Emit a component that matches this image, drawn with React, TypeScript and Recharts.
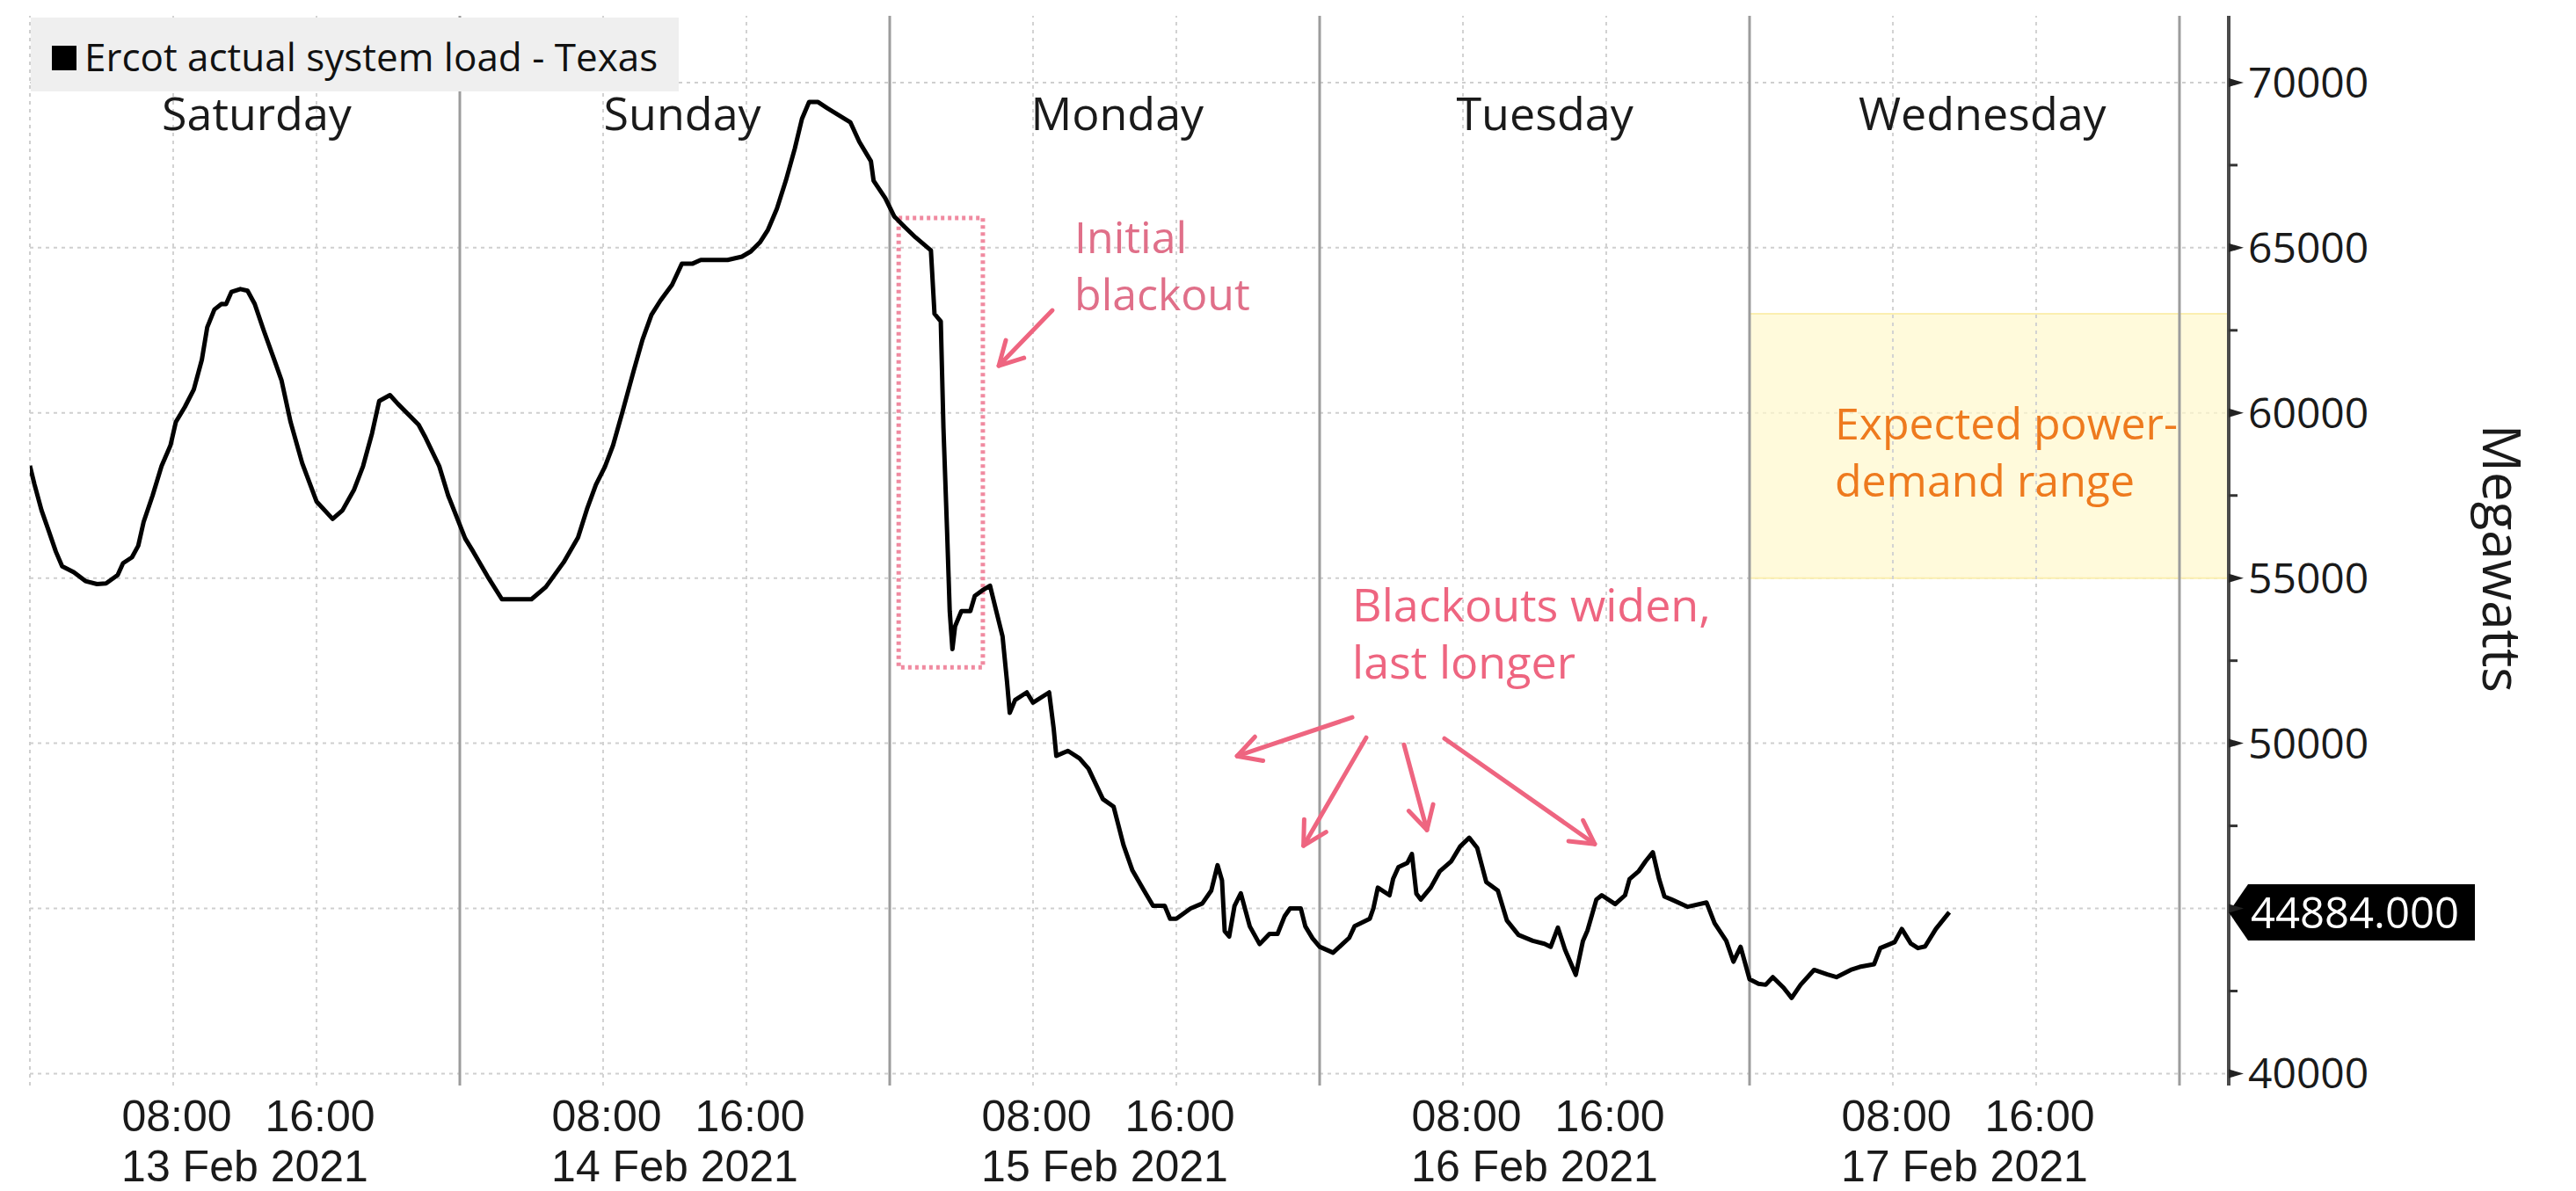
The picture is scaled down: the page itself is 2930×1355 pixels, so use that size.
import React from 'react';
import {
  LineChart,
  Line,
  XAxis,
  YAxis,
  CartesianGrid,
  ReferenceLine,
  ReferenceArea,
  ReferenceDot,
} from 'recharts';

// ---- data: hours since 13 Feb 2021 00:00, ERCOT actual system load (MW)
const hours = [
  0, 0.25, 0.65, 1.05, 1.45, 1.8, 2.45, 3.1, 3.75, 4.25, 4.9, 5.2, 5.7, 6.05, 6.35, 6.85, 7.35, 7.85,
  8.15, 8.65, 9.15, 9.6, 9.9, 10.3, 10.7, 10.95, 11.25, 11.75, 12.15, 12.55, 13.05, 13.7, 14.05, 14.55,
  15.2, 16.0, 16.9, 17.45, 18.1, 18.6, 19.1, 19.5, 20.1, 20.55, 21.7, 22.05, 22.85, 23.35, 24.3,
  24.75, 25.55, 26.35, 28.0, 28.8, 29.8, 30.6, 31.1, 31.6, 32.1, 32.55, 33.05, 33.7, 34.2, 34.7, 35.2,
  35.85, 36.4, 37.0, 37.45, 38.95, 39.75, 40.25, 40.75, 41.2, 41.7, 42.2, 42.7, 43.1, 43.5, 44.0, 44.5,
  45.8, 46.3, 46.95, 47.1, 47.75, 48.25, 48.85, 49.45, 50.3, 50.5, 50.85, 51.0, 51.2, 51.35, 51.5,
  51.65, 52.0, 52.5, 52.75, 53.15, 53.6, 53.95, 54.3, 54.55, 54.7, 55.0, 55.65, 56.0, 56.9, 57.15,
  57.3, 57.95, 58.6, 59.1, 59.9, 60.5, 61.05, 61.55, 62.2, 62.7, 63.35, 63.65, 64.0, 64.8, 65.45,
  65.95, 66.3, 66.55, 66.7, 66.95, 67.25, 67.6, 68.1, 68.65, 69.2, 69.65, 70.05, 70.35, 70.95, 71.2,
  71.6, 72.0, 72.75, 73.65, 73.95, 74.8, 75.0, 75.25, 75.9, 76.1, 76.4, 76.9, 77.15, 77.4, 77.65,
  78.2, 78.7, 79.35, 79.85, 80.35, 80.8, 81.3, 81.95, 82.45, 83.1, 83.9, 84.55, 84.9, 85.3, 85.7,
  86.3, 86.7, 86.95, 87.45, 87.75, 88.5, 89.05, 89.3, 89.8, 90.2, 90.6, 90.95, 91.25, 91.65, 92.55,
  93.6, 94.05, 94.7, 95.1, 95.5, 96.0, 96.5, 96.9, 97.3, 97.9, 98.35, 98.85, 99.6, 100.35, 100.85,
  101.65, 102.15, 102.95, 103.3, 104.1, 104.5, 105.0, 105.4, 105.8, 106.4, 107.15,
];
const loadMW = [
  58400, 57850, 57050, 56430, 55800, 55360, 55180, 54910, 54820, 54840, 55090, 55450, 55630, 55980, 56700, 57500, 58390, 59020,
  59730, 60180, 60710, 61610, 62590, 63130, 63300, 63290, 63660, 63750, 63700, 63300, 62500, 61520, 60980, 59730,
  58480, 57320, 56790, 57050, 57680, 58390, 59380, 60360, 60540, 60270, 59640, 59290, 58390, 57500, 56200,
  55800, 55050, 54360, 54360, 54730, 55480, 56230, 57090, 57830, 58370, 59010, 59970, 61260, 62220, 62970, 63400,
  63880, 64520, 64520, 64630, 64630, 64730, 64890, 65160, 65540, 66180, 67030, 68000, 68900, 69410, 69410, 69230,
  68800, 68210, 67620, 67030, 66500, 65950, 65620, 65310, 64920, 63000, 62770, 59540, 56460, 54000, 52850,
  53540, 54000, 54000, 54460, 54620, 54770, 54000, 53230, 51850, 50920, 51310, 51540, 51230, 51540, 50460,
  49620, 49770, 49540, 49230, 48310, 48080, 46920, 46150, 45540, 45080, 45080, 44690, 44690, 45000, 45150,
  45540, 46310, 45850, 44310, 44150, 45080, 45460, 44460, 43920, 44230, 44230, 44770, 45000, 45000, 44460,
  44100, 43840, 43660, 44110, 44460, 44690, 45000, 45630, 45400, 45890, 46250, 46380, 46650, 45450, 45270,
  45630, 46120, 46430, 46880, 47140, 46830, 45800, 45540, 44640, 44200, 44020, 43930, 43840, 44420, 43750,
  42990, 44020, 44330, 45270, 45400, 45130, 45400, 45890, 46120, 46430, 46700, 45890, 45360, 45270, 45050,
  45180, 44550, 44020, 43390, 43840, 42860, 42720, 42690, 42920, 42600, 42290, 42690, 43140, 43000, 42920,
  43140, 43230, 43310, 43800, 43980, 44380, 43940, 43800, 43850, 44380, 44884,
];

const dayNames = ['Saturday', 'Sunday', 'Monday', 'Tuesday', 'Wednesday'];
const dayNameHours = [12.66, 36.42, 60.7, 84.57, 109.0];
const dateLabels = ['13 Feb 2021', '14 Feb 2021', '15 Feb 2021', '16 Feb 2021', '17 Feb 2021'];
const dateTickHours = [12, 36, 60, 84, 108];
const timeLabels = ['08:00', '16:00'];
const timeTickHours = [8, 16, 32, 40, 56, 64, 80, 88, 104, 112];
const daySeparatorHours = [24, 48, 72, 96, 120];
const yTicks = [40000, 42500, 45000, 47500, 50000, 52500, 55000, 57500, 60000, 62500, 65000, 67500, 70000];
const yLabelTicks = [40000, 50000, 55000, 60000, 65000, 70000];
const yGridValues = [40000, 45000, 50000, 55000, 60000, 65000, 70000];

const X_DOMAIN: [number, number] = [0, 122.75];
const Y_DOMAIN: [number, number] = [39640, 72020];

// annotation anchors (data units)
const initialBox = { x1: 48.5, x2: 53.2, y1: 52300, y2: 65900 };
const initialArrow = { from: { x: 57.08, y: 63106 }, to: { x: 54.09, y: 61429 } };
const initialText = { x: 58.31, y: 64836, lines: ['Initial', 'blackout'] };
const widenArrows = [
  { from: { x: 73.82, y: 50783 }, to: { x: 67.39, y: 49611 } },
  { from: { x: 74.6, y: 50170 }, to: { x: 71.1, y: 46900 } },
  { from: { x: 76.71, y: 49957 }, to: { x: 77.99, y: 47376 } },
  { from: { x: 78.97, y: 50143 }, to: { x: 87.36, y: 46950 } },
];
const widenText = { x: 73.82, y: 53684, lines: ['Blackouts widen,', 'last longer'] };
const expectedRange = { x1: 96, x2: 122.75, y1: 55000, y2: 63000 };
const expectedText = { x: 100.76, y: 59193, lines: ['Expected power-', 'demand range'] };
const dayLabelValue = 68560;

const data = hours.map((t, i) => ({ t, load: loadMW[i] }));
const lastValue = loadMW[loadMW.length - 1];

const FONT = "'Open Sans', 'DejaVu Sans', sans-serif";
const AXIS_FONT = "'Liberation Sans', Arial, sans-serif";
const PINK = '#EE6580';
const PINK_TEXT = '#E06F89';
const ORANGE = '#EE7A1E';

const xTicks = [...timeTickHours, ...dateTickHours].sort((a, b) => a - b);

const XTick = (props: any) => {
  const { x, y, payload } = props;
  const h = payload.value;
  const di = dateTickHours.indexOf(h);
  if (di >= 0) {
    return (
      <text x={x} y={y + 109} textAnchor="middle" fontSize={50} fontFamily={AXIS_FONT} fill="#1a1a1a">
        {dateLabels[di]}
      </text>
    );
  }
  const label = h % 24 === 8 ? timeLabels[0] : timeLabels[1];
  return (
    <text x={x + 4} y={y + 52} textAnchor="middle" fontSize={50} fontFamily={AXIS_FONT} fill="#1a1a1a">
      {label}
    </text>
  );
};

const YTick = (props: any) => {
  const { x, y, payload } = props;
  const v = payload.value;
  if (v % 5000 !== 0) {
    return <line x1={x} y1={y} x2={x + 10} y2={y} stroke="#333" strokeWidth={3} />;
  }
  return (
    <g>
      <polygon points={`${x},${y - 5} ${x + 17},${y} ${x},${y + 5}`} fill="#222" />
      {yLabelTicks.includes(v) && (
        <text x={x + 22} y={y + 17} fontSize={48} fontFamily={FONT} fill="#1a1a1a">
          {v}
        </text>
      )}
    </g>
  );
};

const arrowShape = (color: string, width: number) => (props: any) => {
  const { x1, y1, x2, y2 } = props;
  const ang = Math.atan2(y2 - y1, x2 - x1);
  const L = 30;
  const a = 0.5;
  const p1x = x2 - L * Math.cos(ang - a);
  const p1y = y2 - L * Math.sin(ang - a);
  const p2x = x2 - L * Math.cos(ang + a);
  const p2y = y2 - L * Math.sin(ang + a);
  return (
    <g>
      <line x1={x1} y1={y1} x2={x2} y2={y2} stroke={color} strokeWidth={width} strokeLinecap="round" />
      <polyline
        points={`${p1x},${p1y} ${x2},${y2} ${p2x},${p2y}`}
        fill="none"
        stroke={color}
        strokeWidth={width}
        strokeLinecap="round"
        strokeLinejoin="round"
      />
    </g>
  );
};

const textShape = (lines: string[], color: string, size: number, lineGap: number, anchor: string) => (props: any) => {
  const { cx, cy } = props;
  return (
    <text x={cx} y={cy} fontSize={size} fontFamily={FONT} fill={color} textAnchor={anchor}>
      {lines.map((l, i) => (
        <tspan key={i} x={cx} dy={i === 0 ? 0 : lineGap}>
          {l}
        </tspan>
      ))}
    </text>
  );
};

const tagShape = (props: any) => {
  const { cx, cy } = props;
  const h = 32;
  return (
    <g>
      <polygon
        points={`${cx},${cy} ${cx + 22},${cy - h} ${cx + 280},${cy - h} ${cx + 280},${cy + h} ${cx + 22},${cy + h}`}
        fill="#000"
      />
      <text x={cx + 25} y={cy + 18} fontSize={49} fontFamily={FONT} fill="#fff">
        {lastValue.toFixed(3)}
      </text>
    </g>
  );
};

const megawattsLabel = (props: any) => {
  const vb = props.viewBox || { x: 2535, y: 18, width: 300, height: 1217 };
  const cx = vb.x + 312;
  const cy = vb.y + vb.height / 2 + 9;
  return (
    <text
      x={cx}
      y={cy}
      transform={`rotate(90 ${cx} ${cy})`}
      textAnchor="middle"
      dominantBaseline="central"
      fontSize={60}
      fontFamily={FONT}
      fill="#1a1a1a"
    >
      Megawatts
    </text>
  );
};

export default function App() {
  return (
    <div style={{ position: 'absolute', left: 0, top: 0, width: 2930, height: 1355, background: '#fff' }}>
      <div
        style={{
          position: 'absolute',
          left: 35,
          top: 20,
          width: 737,
          height: 84,
          background: '#efefef',
          zIndex: 2,
        }}
      >
        <div style={{ position: 'absolute', left: 24, top: 32, width: 28, height: 28, background: '#000' }} />
        <div
          style={{
            position: 'absolute',
            left: 61,
            top: 16,
            fontFamily: FONT,
            fontSize: 44,
            lineHeight: '56px',
            color: '#111',
            whiteSpace: 'nowrap',
          }}
        >
          Ercot actual system load - Texas
        </div>
      </div>
      <LineChart
        width={2930}
        height={1355}
        data={data}
        margin={{ top: 18, right: 95, bottom: 0, left: 34 }}
      >
        <CartesianGrid
          vertical={false}
          horizontalValues={yGridValues}
          stroke="#cfcfcf"
          strokeDasharray="4 5"
          strokeWidth={2}
        />
        <ReferenceArea
          x1={expectedRange.x1}
          x2={expectedRange.x2}
          y1={expectedRange.y1}
          y2={expectedRange.y2}
          fill="#FFF8CC"
          fillOpacity={0.7}
          stroke="#FBEFB0"
          strokeWidth={2}
          ifOverflow="visible"
        />
        <ReferenceLine x={0} stroke="#cfcfcf" strokeDasharray="4 5" strokeWidth={2} />
        {timeTickHours.map((h) => (
          <ReferenceLine key={'g' + h} x={h} stroke="#d2d2d2" strokeDasharray="4 5" strokeWidth={2} />
        ))}
        {daySeparatorHours.map((h) => (
          <ReferenceLine key={'d' + h} x={h} stroke="#9c9c9c" strokeWidth={3} />
        ))}
        <XAxis
          dataKey="t"
          type="number"
          domain={X_DOMAIN}
          allowDataOverflow
          ticks={xTicks}
          interval={0}
          axisLine={false}
          tickLine={false}
          tickSize={0}
          tickMargin={0}
          height={120}
          tick={<XTick />}
        />
        <YAxis
          orientation="right"
          type="number"
          domain={Y_DOMAIN}
          allowDataOverflow
          ticks={yTicks}
          interval={0}
          width={300}
          tickSize={0}
          tickMargin={0}
          tickLine={false}
          axisLine={{ stroke: '#4a4a4a', strokeWidth: 4 }}
          tick={<YTick />}
          label={{ value: 'Megawatts', content: megawattsLabel }}
        />
        <ReferenceArea
          x1={initialBox.x1}
          x2={initialBox.x2}
          y1={initialBox.y1}
          y2={initialBox.y2}
          fill="none"
          fillOpacity={0}
          stroke="#F08AA0"
          strokeWidth={5}
          strokeDasharray="4 4"
        />
        <Line
          type="linear"
          dataKey="load"
          stroke="#000"
          strokeWidth={5}
          strokeLinejoin="round"
          dot={false}
          isAnimationActive={false}
        />
        <ReferenceLine
          segment={[initialArrow.from, initialArrow.to]}
          shape={arrowShape(PINK, 5)}
        />
        {widenArrows.map((a, i) => (
          <ReferenceLine key={'a' + i} segment={[a.from, a.to]} shape={arrowShape(PINK, 5)} />
        ))}
        <ReferenceDot
          x={initialText.x}
          y={initialText.y}
          shape={textShape(initialText.lines, PINK_TEXT, 50, 65, 'start')}
        />
        <ReferenceDot
          x={widenText.x}
          y={widenText.y}
          shape={textShape(widenText.lines, PINK, 52, 65, 'start')}
        />
        <ReferenceDot
          x={expectedText.x}
          y={expectedText.y}
          shape={textShape(expectedText.lines, ORANGE, 50, 65, 'start')}
        />
        {dayNames.map((d, i) => (
          <ReferenceDot
            key={d}
            x={dayNameHours[i]}
            y={dayLabelValue}
            shape={textShape([d], '#1a1a1a', 52, 0, 'middle')}
          />
        ))}
        <ReferenceDot x={X_DOMAIN[1]} y={lastValue} ifOverflow="visible" shape={tagShape} />
      </LineChart>
    </div>
  );
}
